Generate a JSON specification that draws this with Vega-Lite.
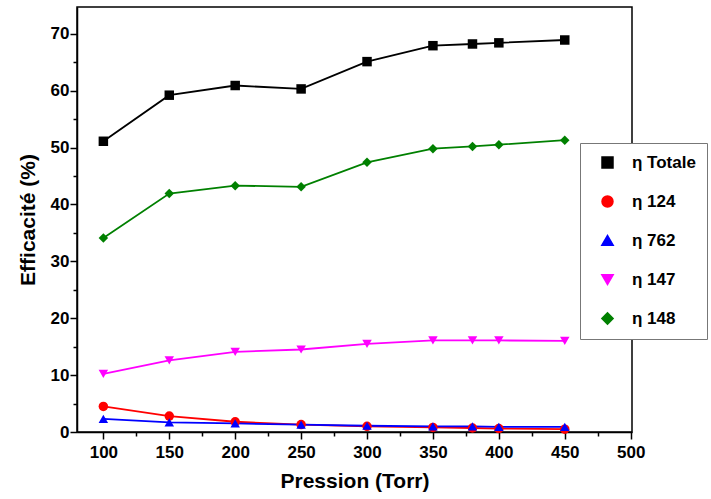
{
  "$schema": "https://vega.github.io/schema/vega-lite/v6.json",
  "width": 555,
  "height": 425,
  "autosize": "none",
  "padding": {"left": 77, "top": 7, "right": 79, "bottom": 67},
  "background": "white",
  "config": {
    "font": "Liberation Sans",
    "view": {"stroke": "black", "strokeWidth": 1.5},
    "axis": {"domainColor": "black", "tickColor": "black", "labelColor": "black", "titleColor": "black", "grid": false, "domainWidth": 1.5, "tickWidth": 1.5}
  },
  "data": {"values": [
    {"p": 100, "s": "η Totale", "v": 51.1},
    {"p": 150, "s": "η Totale", "v": 59.2},
    {"p": 200, "s": "η Totale", "v": 60.9},
    {"p": 250, "s": "η Totale", "v": 60.3},
    {"p": 300, "s": "η Totale", "v": 65.1},
    {"p": 350, "s": "η Totale", "v": 67.9},
    {"p": 380, "s": "η Totale", "v": 68.2},
    {"p": 400, "s": "η Totale", "v": 68.4},
    {"p": 450, "s": "η Totale", "v": 68.9},
    {"p": 100, "s": "η 148", "v": 34.1},
    {"p": 150, "s": "η 148", "v": 41.9},
    {"p": 200, "s": "η 148", "v": 43.3},
    {"p": 250, "s": "η 148", "v": 43.1},
    {"p": 300, "s": "η 148", "v": 47.4},
    {"p": 350, "s": "η 148", "v": 49.8},
    {"p": 380, "s": "η 148", "v": 50.2},
    {"p": 400, "s": "η 148", "v": 50.5},
    {"p": 450, "s": "η 148", "v": 51.3},
    {"p": 100, "s": "η 147", "v": 10.2},
    {"p": 150, "s": "η 147", "v": 12.6},
    {"p": 200, "s": "η 147", "v": 14.1},
    {"p": 250, "s": "η 147", "v": 14.5},
    {"p": 300, "s": "η 147", "v": 15.5},
    {"p": 350, "s": "η 147", "v": 16.1},
    {"p": 380, "s": "η 147", "v": 16.1},
    {"p": 400, "s": "η 147", "v": 16.1},
    {"p": 450, "s": "η 147", "v": 16.0},
    {"p": 100, "s": "η 124", "v": 4.5},
    {"p": 150, "s": "η 124", "v": 2.8},
    {"p": 200, "s": "η 124", "v": 1.8},
    {"p": 250, "s": "η 124", "v": 1.3},
    {"p": 300, "s": "η 124", "v": 1.0},
    {"p": 350, "s": "η 124", "v": 0.8},
    {"p": 380, "s": "η 124", "v": 0.7},
    {"p": 400, "s": "η 124", "v": 0.6},
    {"p": 450, "s": "η 124", "v": 0.5},
    {"p": 100, "s": "η 762", "v": 2.3},
    {"p": 150, "s": "η 762", "v": 1.7},
    {"p": 200, "s": "η 762", "v": 1.5},
    {"p": 250, "s": "η 762", "v": 1.3},
    {"p": 300, "s": "η 762", "v": 1.1},
    {"p": 350, "s": "η 762", "v": 1.0},
    {"p": 380, "s": "η 762", "v": 1.0},
    {"p": 400, "s": "η 762", "v": 0.9},
    {"p": 450, "s": "η 762", "v": 0.9}
  ]},
  "encoding": {
    "x": {
      "field": "p", "type": "quantitative",
      "scale": {"domain": [80, 501], "nice": false, "zero": false},
      "axis": {
        "title": "Pression (Torr)", "titleFontSize": 21, "titleFontWeight": "bold", "titlePadding": 10,
        "values": [100,125,150,175,200,225,250,275,300,325,350,375,400,425,450,475,500],
        "labelExpr": "datum.value % 50 === 0 ? datum.label : ''",
        "labelFontSize": 17, "labelFontWeight": "bold", "labelPadding": 5,
        "tickSize": {"condition": {"test": "datum.value % 50 !== 0", "value": 4}, "value": 7}
      }
    },
    "y": {
      "field": "v", "type": "quantitative",
      "scale": {"domain": [0, 74.7], "nice": false},
      "axis": {
        "title": "Efficacité (%)", "titleFontSize": 21, "titleFontWeight": "bold", "titlePadding": 12,
        "values": [0,5,10,15,20,25,30,35,40,45,50,55,60,65,70],
        "labelExpr": "datum.value % 10 === 0 ? datum.label : ''",
        "labelFontSize": 17, "labelFontWeight": "bold", "labelPadding": 1,
        "tickSize": {"condition": {"test": "datum.value % 10 !== 0", "value": 4}, "value": 7}
      }
    },
    "color": {
      "field": "s", "type": "nominal",
      "scale": {"domain": ["η Totale", "η 124", "η 762", "η 147", "η 148"], "range": ["#000000", "#ff0000", "#0000ff", "#ff00ff", "#008000"]},
      "legend": {
        "title": null, "orient": "none", "legendX": 503, "legendY": 136,
        "fillColor": "white", "strokeColor": "#777777", "padding": 11,
        "labelFontSize": 17, "labelFontWeight": "bold", "labelColor": "black",
        "symbolSize": 110, "symbolStrokeWidth": 2, "rowPadding": 20, "labelOffset": 16, "symbolOffset": 8
      }
    }
  },
  "layer": [
    {"mark": {"type": "line", "strokeWidth": 1.8}},
    {
      "mark": {"type": "point", "filled": true, "size": 90, "opacity": 1},
      "encoding": {
        "shape": {
          "field": "s", "type": "nominal",
          "scale": {"domain": ["η Totale", "η 124", "η 762", "η 147", "η 148"], "range": ["square", "circle", "triangle-up", "triangle-down", "diamond"]},
          "legend": {"title": null}
        }
      }
    }
  ]
}
